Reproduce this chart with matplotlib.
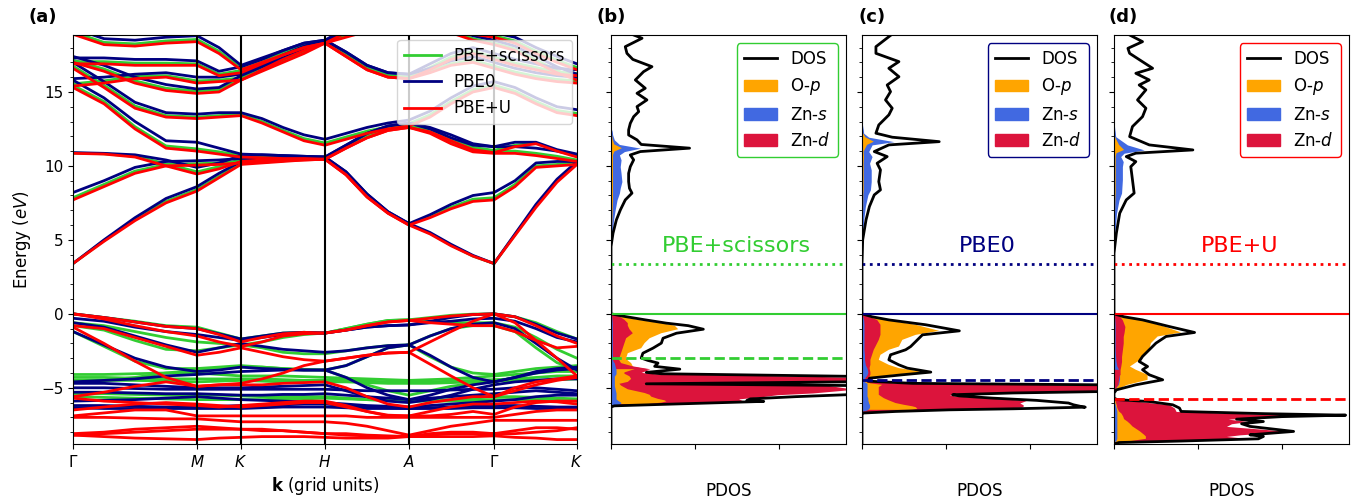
import numpy as np
import matplotlib
matplotlib.use('Agg')
import matplotlib.pyplot as plt
from matplotlib.lines import Line2D
from matplotlib.patches import Patch

# k-path samples (high symmetry points at index 0,4,6,10,14,18,22)
kpath = [0, .31, .62, .93, 1.24, 1.46, 1.68, 1.89, 2.10, 2.31, 2.52, 2.73, 2.94, 3.15,
         3.36, 3.57, 3.78, 4.00, 4.21, 4.42, 4.63, 4.84, 5.04]
kticks = [0, 1.24, 1.68, 2.52, 3.36, 4.21, 5.04]
klabels = [r'$\mathit{\Gamma}$', '$M$', '$K$', '$H$', '$A$', r'$\mathit{\Gamma}$', '$K$']

bands_pbeu = [
    [3.4, 4.9, 6.3, 7.5, 8.3, 9.2, 10.1, 10.2, 10.3, 10.4, 10.45, 9.4, 7.9, 6.8, 6.0, 5.4, 4.6, 3.9, 3.4, 5.3, 7.2, 8.9, 10.1],
    [7.7, 8.6, 9.5, 10.0, 10.05, 10.1, 10.2, 10.25, 10.35, 10.4, 10.45, 9.4, 7.9, 6.8, 6.0, 6.5, 7.1, 7.6, 7.7, 8.6, 9.9, 10.0, 10.1],
    [10.85, 10.8, 10.6, 10.0, 9.45, 9.8, 10.3, 10.4, 10.4, 10.45, 10.45, 11.2, 11.9, 12.4, 12.6, 12.2, 11.5, 10.95, 10.85, 10.85, 10.7, 10.5, 10.3],
    [15.3, 14.2, 12.5, 11.2, 11.0, 10.8, 10.6, 10.55, 10.5, 10.5, 10.45, 11.2, 11.9, 12.4, 12.6, 12.3, 11.7, 11.1, 10.9, 11.3, 11.5, 11.0, 10.6],
    [16.6, 15.3, 13.9, 13.3, 13.2, 13.3, 13.4, 12.9, 12.3, 11.7, 11.4, 11.8, 12.2, 12.5, 12.7, 13.3, 14.2, 15.0, 15.3, 14.9, 14.2, 13.6, 13.4],
    [15.4, 15.6, 15.9, 16.0, 15.6, 15.7, 15.8, 16.5, 17.2, 17.8, 18.3, 17.4, 16.5, 16.0, 15.9, 16.3, 16.8, 17.0, 16.6, 16.2, 15.9, 15.7, 15.6],
    [16.9, 16.9, 16.8, 16.8, 16.8, 16.1, 16.3, 16.9, 17.5, 18.0, 18.3, 17.4, 16.5, 16.0, 15.9, 16.5, 17.2, 17.6, 17.2, 16.8, 16.5, 16.2, 16.1],
    [18.9, 18.2, 18.1, 18.3, 18.4, 17.6, 16.5, 17.0, 17.5, 18.0, 18.3, 18.7, 19.1, 19.3, 19.4, 19.3, 19.1, 18.9, 18.7, 18.3, 17.6, 17.0, 16.5],
    [17.0, 16.4, 15.6, 15.1, 14.9, 15.0, 15.8, 16.4, 17.0, 17.6, 18.3, 19.0, 19.5, 19.8, 20.0, 19.6, 19.0, 18.5, 18.2, 17.8, 17.0, 16.3, 15.8],
    [0.0, -0.25, -0.55, -0.85, -1.0, -1.4, -1.9, -1.6, -1.35, -1.25, -1.3, -1.1, -0.8, -0.55, -0.45, -0.3, -0.15, -0.05, 0.0, -0.2, -0.8, -1.5, -2.0],
    [0.0, -0.35, -0.8, -1.2, -1.5, -1.9, -2.2, -1.9, -1.5, -1.35, -1.3, -1.1, -0.8, -0.55, -0.45, -0.6, -0.7, -0.8, -0.8, -1.2, -1.8, -2.3, -2.2],
    [-0.8, -1.0, -1.6, -2.2, -2.8, -2.6, -2.3, -2.6, -2.9, -3.1, -3.2, -3.0, -2.8, -2.65, -2.6, -1.9, -1.2, -0.5, 0.0, -0.6, -1.8, -3.0, -4.2],
    [-0.9, -2.0, -3.2, -4.3, -4.9, -4.8, -4.7, -4.4, -4.0, -3.5, -3.2, -3.0, -2.8, -2.65, -2.6, -3.4, -4.2, -5.0, -5.6, -5.2, -4.8, -4.5, -4.3],
    [-5.6, -5.3, -4.9, -4.6, -4.9, -4.8, -4.8, -4.8, -4.7, -4.65, -4.6, -5.0, -5.6, -6.1, -6.3, -6.0, -5.8, -5.6, -5.6, -5.0, -4.6, -4.4, -4.2],
    [-5.7, -5.9, -6.0, -6.1, -6.2, -6.3, -6.2, -6.1, -6.0, -5.9, -5.9, -6.2, -6.6, -6.9, -6.9, -6.9, -6.8, -6.6, -6.8, -6.3, -6.0, -5.9, -5.9],
    [-6.5, -6.3, -6.1, -6.0, -6.1, -6.2, -6.3, -6.2, -6.1, -6.0, -6.0, -6.3, -6.6, -6.85, -6.9, -6.6, -6.3, -6.1, -6.1, -6.0, -5.9, -5.95, -6.1],
    [-6.9, -6.7, -6.5, -6.5, -6.9, -6.9, -6.9, -6.9, -6.9, -6.9, -6.9, -6.9, -7.0, -7.0, -7.0, -7.0, -7.0, -7.0, -7.0, -6.8, -6.6, -6.5, -6.5],
    [-7.0, -7.0, -7.05, -7.1, -7.1, -7.2, -7.3, -7.3, -7.3, -7.3, -7.3, -7.4, -7.6, -7.9, -8.2, -7.9, -7.6, -7.4, -7.2, -7.2, -7.2, -7.2, -7.2],
    [-8.1, -8.0, -7.8, -7.7, -7.6, -7.7, -7.8, -7.9, -7.9, -8.0, -8.1, -8.2, -8.25, -8.3, -8.3, -8.2, -8.1, -8.1, -8.1, -7.9, -7.7, -7.7, -7.8],
    [-8.2, -8.3, -8.4, -8.45, -8.5, -8.4, -8.35, -8.3, -8.3, -8.3, -8.35, -8.4, -8.4, -8.4, -8.3, -8.3, -8.3, -8.3, -8.25, -8.35, -8.4, -8.5, -8.5],
    [-8.2, -8.1, -8.0, -7.9, -7.8, -7.8, -7.8, -7.8, -7.9, -8.0, -8.1, -8.1, -8.2, -8.25, -8.3, -8.1, -8.0, -8.0, -8.1, -8.1, -8.0, -7.9, -7.7],
]

bands_pbe0 = [
    [3.4, 5.0, 6.5, 7.8, 8.6, 9.5, 10.3, 10.35, 10.45, 10.55, 10.6, 9.6, 8.1, 6.9, 6.1, 5.5, 4.7, 3.95, 3.4, 5.4, 7.4, 9.1, 10.3],
    [8.2, 9.0, 9.9, 10.3, 10.35, 10.4, 10.5, 10.5, 10.55, 10.6, 10.6, 9.6, 8.1, 6.9, 6.1, 6.7, 7.4, 8.0, 8.2, 9.0, 10.2, 10.3, 10.3],
    [10.9, 10.85, 10.75, 10.4, 9.9, 10.2, 10.7, 10.75, 10.7, 10.65, 10.6, 11.4, 12.2, 12.7, 12.9, 12.5, 11.9, 11.4, 11.3, 11.3, 11.2, 11.0, 10.7],
    [15.8, 14.6, 13.0, 11.7, 11.6, 11.2, 10.8, 10.75, 10.7, 10.65, 10.6, 11.4, 12.2, 12.7, 12.9, 12.6, 12.1, 11.5, 11.3, 11.6, 11.6, 11.1, 10.8],
    [17.0, 15.7, 14.3, 13.6, 13.5, 13.6, 13.6, 13.2, 12.6, 12.1, 11.8, 12.2, 12.6, 12.9, 13.1, 13.7, 14.6, 15.4, 15.7, 15.3, 14.6, 14.0, 13.8],
    [15.9, 16.0, 16.2, 16.3, 16.0, 16.0, 16.2, 16.8, 17.5, 18.1, 18.5, 17.7, 16.8, 16.3, 16.2, 16.6, 17.1, 17.4, 17.0, 16.6, 16.3, 16.1, 16.0],
    [17.3, 17.3, 17.2, 17.2, 17.1, 16.4, 16.7, 17.2, 17.8, 18.3, 18.5, 17.7, 16.8, 16.3, 16.2, 16.9, 17.6, 18.0, 17.6, 17.2, 16.9, 16.6, 16.5],
    [19.3, 18.6, 18.5, 18.7, 18.8, 18.0, 16.8, 17.3, 17.8, 18.3, 18.5, 19.0, 19.4, 19.6, 19.7, 19.6, 19.4, 19.2, 19.0, 18.7, 18.0, 17.4, 16.9],
    [17.4, 16.8, 16.0, 15.5, 15.2, 15.3, 16.1, 16.7, 17.3, 17.9, 18.5, 19.3, 19.8, 20.1, 20.3, 19.9, 19.3, 18.8, 18.5, 18.1, 17.4, 16.7, 16.2],
    [0.0, -0.25, -0.55, -0.85, -1.0, -1.35, -1.7, -1.5, -1.3, -1.25, -1.3, -1.1, -0.9, -0.8, -0.75, -0.5, -0.25, -0.05, 0.0, -0.2, -0.7, -1.3, -1.7],
    [-0.3, -0.5, -0.9, -1.2, -1.4, -1.6, -1.8, -1.6, -1.4, -1.3, -1.3, -1.1, -0.9, -0.8, -0.75, -0.6, -0.5, -0.35, -0.3, -0.5, -1.0, -1.6, -1.9],
    [-0.6, -0.9, -1.5, -2.1, -2.6, -2.3, -2.0, -2.2, -2.4, -2.5, -2.6, -2.5, -2.3, -2.15, -2.1, -1.5, -1.0, -0.7, -0.6, -1.0, -2.0, -3.0, -3.8],
    [-1.2, -2.1, -3.0, -3.6, -3.9, -3.8, -3.6, -3.7, -3.75, -3.8, -3.8, -3.5, -2.9, -2.3, -2.1, -2.8, -3.6, -4.3, -4.6, -4.3, -3.9, -3.7, -3.6],
    [-4.6, -4.5, -4.4, -4.2, -4.1, -4.0, -3.9, -3.85, -3.8, -3.8, -3.8, -4.3, -5.0, -5.5, -5.8, -5.5, -5.1, -4.8, -4.6, -4.3, -4.0, -3.8, -3.7],
    [-4.7, -4.7, -4.8, -4.9, -5.0, -5.0, -5.0, -4.95, -4.9, -4.85, -4.8, -5.2, -5.6, -5.9, -6.0, -5.8, -5.5, -5.1, -4.8, -4.6, -4.5, -4.4, -4.4],
    [-5.0, -5.0, -5.05, -5.1, -5.1, -5.1, -5.1, -5.1, -5.1, -5.1, -5.1, -5.15, -5.2, -5.2, -5.2, -5.2, -5.15, -5.1, -5.1, -5.0, -5.0, -5.1, -5.2],
    [-5.3, -5.3, -5.35, -5.4, -5.4, -5.45, -5.5, -5.5, -5.45, -5.45, -5.4, -5.5, -5.6, -5.7, -5.8, -5.7, -5.6, -5.5, -5.4, -5.3, -5.2, -5.3, -5.4],
    [-5.9, -5.85, -5.8, -5.7, -5.6, -5.7, -5.8, -5.85, -5.9, -5.95, -6.0, -6.1, -6.2, -6.25, -6.3, -6.2, -6.1, -6.0, -5.9, -5.8, -5.6, -5.5, -5.5],
    [-6.2, -6.2, -6.25, -6.3, -6.3, -6.25, -6.2, -6.2, -6.15, -6.1, -6.1, -6.2, -6.3, -6.35, -6.4, -6.35, -6.3, -6.25, -6.2, -6.2, -6.25, -6.3, -6.3],
    [-6.35, -6.4, -6.4, -6.4, -6.4, -6.4, -6.4, -6.35, -6.3, -6.3, -6.3, -6.35, -6.4, -6.4, -6.4, -6.4, -6.4, -6.35, -6.35, -6.35, -6.4, -6.4, -6.4],
]

bands_sci = [
    [3.4, 4.95, 6.4, 7.6, 8.4, 9.3, 10.2, 10.25, 10.35, 10.45, 10.5, 9.45, 7.95, 6.85, 6.05, 5.45, 4.65, 3.9, 3.4, 5.35, 7.3, 9.0, 10.2],
    [7.85, 8.75, 9.65, 10.1, 10.15, 10.2, 10.3, 10.3, 10.4, 10.45, 10.5, 9.45, 7.95, 6.85, 6.05, 6.6, 7.2, 7.75, 7.85, 8.75, 10.0, 10.1, 10.2],
    [10.87, 10.82, 10.65, 10.15, 9.6, 9.95, 10.45, 10.5, 10.5, 10.5, 10.5, 11.3, 12.0, 12.5, 12.7, 12.3, 11.6, 11.1, 11.0, 11.0, 10.85, 10.65, 10.4],
    [15.45, 14.35, 12.65, 11.35, 11.15, 10.95, 10.7, 10.65, 10.6, 10.55, 10.5, 11.3, 12.0, 12.5, 12.7, 12.4, 11.85, 11.25, 11.05, 11.4, 11.55, 11.05, 10.7],
    [16.75, 15.45, 14.05, 13.4, 13.3, 13.4, 13.5, 13.0, 12.4, 11.85, 11.55, 11.95, 12.35, 12.65, 12.85, 13.45, 14.35, 15.15, 15.45, 15.05, 14.35, 13.75, 13.55],
    [15.55, 15.75, 16.05, 16.1, 15.75, 15.8, 15.95, 16.6, 17.3, 17.9, 18.4, 17.5, 16.6, 16.1, 16.0, 16.4, 16.9, 17.15, 16.75, 16.35, 16.05, 15.85, 15.75],
    [17.05, 17.05, 16.95, 16.95, 16.9, 16.2, 16.45, 17.0, 17.6, 18.1, 18.4, 17.5, 16.6, 16.1, 16.0, 16.65, 17.35, 17.75, 17.35, 16.95, 16.65, 16.35, 16.25],
    [19.05, 18.35, 18.25, 18.45, 18.55, 17.75, 16.6, 17.1, 17.6, 18.1, 18.4, 18.8, 19.2, 19.4, 19.5, 19.4, 19.2, 19.0, 18.8, 18.45, 17.75, 17.15, 16.65],
    [17.15, 16.55, 15.75, 15.25, 15.05, 15.15, 15.9, 16.5, 17.1, 17.7, 18.4, 19.1, 19.6, 19.9, 20.1, 19.7, 19.1, 18.6, 18.3, 17.9, 17.15, 16.45, 15.95],
    [0.0, -0.25, -0.5, -0.8, -0.9, -1.3, -1.7, -1.5, -1.3, -1.25, -1.3, -1.0, -0.7, -0.45, -0.4, -0.25, -0.1, -0.02, 0.0, -0.2, -0.6, -1.2, -1.7],
    [-0.6, -0.8, -1.2, -1.6, -1.9, -2.0, -2.1, -1.9, -1.6, -1.4, -1.3, -1.0, -0.7, -0.45, -0.4, -0.5, -0.6, -0.6, -0.6, -0.9, -1.6, -2.4, -3.0],
    [-0.8, -1.1, -1.8, -2.4, -2.5, -2.3, -2.1, -2.3, -2.6, -2.7, -2.7, -2.5, -2.3, -2.15, -2.1, -1.5, -1.0, -0.8, -0.8, -1.2, -2.3, -3.3, -3.8],
    [-1.2, -2.2, -3.2, -3.7, -3.7, -3.6, -3.5, -3.6, -3.7, -3.75, -3.8, -3.5, -2.9, -2.3, -2.1, -2.9, -3.6, -4.0, -4.1, -3.9, -3.7, -3.6, -3.5],
    [-4.6, -4.5, -4.3, -4.0, -3.8, -3.7, -3.6, -3.6, -3.7, -3.8, -3.8, -4.3, -4.8, -5.2, -5.5, -5.2, -4.9, -4.7, -4.6, -4.3, -4.0, -3.8, -3.7],
    [-4.1, -4.1, -4.05, -4.0, -4.0, -4.1, -4.2, -4.2, -4.2, -4.25, -4.3, -4.35, -4.4, -4.45, -4.5, -4.45, -4.4, -4.3, -4.2, -4.1, -4.0, -3.9, -3.9],
    [-4.3, -4.3, -4.35, -4.4, -4.4, -4.4, -4.4, -4.4, -4.45, -4.5, -4.5, -4.5, -4.55, -4.6, -4.6, -4.6, -4.55, -4.5, -4.45, -4.4, -4.3, -4.2, -4.2],
    [-4.5, -4.5, -4.5, -4.55, -4.6, -4.55, -4.5, -4.55, -4.6, -4.6, -4.6, -4.6, -4.65, -4.7, -4.7, -4.7, -4.65, -4.6, -4.55, -4.5, -4.5, -4.45, -4.4],
    [-5.4, -5.4, -5.45, -5.5, -5.5, -5.5, -5.55, -5.6, -5.6, -5.6, -5.6, -5.7, -5.8, -5.85, -5.9, -5.85, -5.8, -5.7, -5.6, -5.6, -5.65, -5.7, -5.75],
    [-5.6, -5.65, -5.7, -5.75, -5.8, -5.8, -5.8, -5.8, -5.75, -5.75, -5.7, -5.75, -5.8, -5.85, -5.9, -5.9, -5.9, -5.85, -5.8, -5.8, -5.8, -5.85, -5.9],
]

# PDOS panels: energy grid, total DOS, O-p, Zn-s, Zn-d
E_b = [-8.8, -6.3, -6.22, -6.1, -6.0, -5.92, -5.85, -5.75, -5.6, -5.47, -5.35, -5.1, -4.85, -4.73, -4.6, -4.4, -4.22,
       -4.05, -3.96, -3.74, -3.55, -3.33, -3.15, -2.99, -2.66, -2.32, -1.98, -1.65, -1.31, -1.04, -0.8, -0.63, -0.4, -0.18, 0.0,
       3.4, 4.55, 5.45, 6.35, 7.03, 7.7, 8.16, 8.49, 8.94, 9.5, 9.95, 10.41, 10.74, 10.97, 11.2, 11.45, 11.76, 12.09, 12.43,
       12.88, 13.33, 13.67, 14.01, 14.46, 14.91, 15.25, 15.81, 16.37, 16.71, 17.2, 17.61, 18.06, 18.63, 18.85]
tot_b = [0, 0, 0.2, 3.7, 6.7, 9.1, 8.1, 8.3, 11.0, 14.0, 16.0, 17.0, 14.5, 2.1, 14.0, 20.0, 14.0,
         3.0, 2.1, 4.1, 2.6, 2.8, 2.2, 1.8, 1.9, 2.5, 3.0, 3.1, 3.9, 5.5, 4.6, 3.3, 2.0, 0.83, 0,
         0, 0.0, 0.12, 0.32, 0.56, 0.85, 1.25, 1.1, 1.05, 1.05, 1.15, 1.35, 1.15, 1.75, 4.68, 1.8, 1.55, 1.05, 1.05,
         1.15, 1.35, 1.65, 1.55, 2.14, 1.55, 2.04, 1.45, 1.94, 2.44, 1.3, 0.95, 0.85, 1.85, 1.35]
op_b = [0, 0, 0.1, 2.2, 3.0, 3.3, 3.2, 2.8, 2.4, 2.3, 2.0, 1.0, 0.6, 0.5, 1.0, 1.2, 1.1,
        0.8, 0.8, 1.4, 1.3, 1.2, 1.0, 0.9, 1.0, 1.8, 2.0, 2.3, 3.0, 4.0, 3.8, 3.0, 1.6, 0.6, 0,
        0, 0.02, 0.05, 0.08, 0.1, 0.12, 0.12, 0.12, 0.12, 0.12, 0.12, 0.12, 0.12, 0.2, 0.65, 0.2, 0.1, 0.06, 0.05,
        0.05, 0.05, 0.05, 0.05, 0.05, 0.05, 0.05, 0.05, 0.05, 0.05, 0.05, 0.05, 0.05, 0.05, 0.05]
zns_b = [0, 0, 0.05, 0.5, 0.6, 0.5, 0.4, 0.3, 0.3, 0.3, 0.3, 0.25, 0.2, 0.2, 0.2, 0.2, 0.2,
         0.3, 0.3, 0.3, 0.25, 0.2, 0.1, 0.1, 0.08, 0.08, 0.08, 0.08, 0.08, 0.08, 0.08, 0.08, 0.06, 0.04, 0,
         0, 0.02, 0.08, 0.15, 0.25, 0.36, 0.5, 0.55, 0.65, 0.6, 0.55, 0.6, 0.5, 0.8, 1.75, 0.5, 0.2, 0.1, 0.05,
         0.03, 0.02, 0.02, 0.02, 0.02, 0.02, 0.02, 0.02, 0.02, 0.02, 0.02, 0.02, 0.02, 0.02, 0.02]
znd_b = [0, 0, 0.1, 2.4, 6.0, 8.3, 7.8, 7.6, 9.0, 9.9, 12.0, 14.5, 13.0, 1.8, 13.0, 18.0, 12.0,
         2.6, 1.8, 2.3, 1.3, 0.6, 0.5, 0.5, 0.6, 0.7, 0.8, 0.9, 1.3, 1.1, 1.0, 1.0, 0.8, 0.5, 0,
         0, 0, 0, 0, 0, 0, 0, 0, 0, 0, 0, 0, 0, 0, 0.02, 0, 0, 0, 0,
         0, 0, 0, 0, 0, 0, 0, 0, 0, 0, 0, 0, 0, 0, 0]

E_c = [-8.8, -6.75, -6.71, -6.6, -6.49, -6.42, -6.31, -6.25, -6.15, -6.03, -5.85, -5.7, -5.55, -5.47, -5.35, -5.25, -4.95,
       -4.8, -4.7, -4.55, -4.35, -4.12, -3.94, -3.67, -3.45, -3.11, -2.77, -2.43, -2.21, -1.76, -1.42, -1.15, -0.74, -0.41, -0.2, 0.0,
       3.4, 5.0, 6.35, 7.25, 8.04, 8.38, 8.94, 9.73, 10.18, 10.63, 10.97, 11.42, 11.64, 11.94, 12.21, 12.77, 13.45, 13.9,
       14.46, 15.02, 15.47, 16.03, 16.6, 17.05, 17.61, 18.06, 18.85]
tot_c = [0, 0, 0, 2.0, 5.2, 9.0, 13.3, 13.0, 12.6, 12.3, 10.4, 7.8, 5.8, 5.4, 9.0, 14.5, 18.0,
         14.5, 3.0, 0.35, 0.45, 2.4, 4.1, 2.7, 2.2, 1.6, 1.7, 2.6, 2.9, 3.3, 3.6, 5.8, 3.8, 1.6, 0.6, 0,
         0, 0.04, 0.24, 0.44, 0.73, 1.1, 1.0, 1.1, 0.9, 1.5, 0.73, 1.6, 4.6, 1.8, 0.83, 1.0, 1.6, 1.8,
         1.4, 1.7, 1.5, 2.2, 1.6, 2.2, 0.83, 0.83, 1.73]
op_c = [0, 0, 0, 1.0, 3.0, 3.3, 3.2, 3.0, 2.5, 2.0, 1.6, 1.3, 1.1, 1.0, 1.0, 1.0, 1.0,
        1.2, 0.5, 0.1, 0.2, 1.8, 3.7, 2.2, 1.6, 1.0, 1.1, 1.6, 2.2, 2.4, 3.2, 4.6, 3.2, 1.4, 0.4, 0,
        0, 0.02, 0.05, 0.07, 0.08, 0.1, 0.1, 0.1, 0.1, 0.12, 0.1, 0.3, 0.7, 0.2, 0.06, 0.05, 0.05, 0.05,
        0.05, 0.05, 0.05, 0.05, 0.05, 0.05, 0.05, 0.05, 0.05]
zns_c = [0, 0, 0, 0.1, 0.3, 0.4, 0.45, 0.45, 0.45, 0.4, 0.35, 0.35, 0.3, 0.3, 0.3, 0.3, 0.3,
         0.3, 0.3, 0.1, 0.15, 0.3, 0.35, 0.3, 0.2, 0.15, 0.15, 0.12, 0.12, 0.12, 0.12, 0.12, 0.12, 0.1, 0.05, 0,
         0, 0.02, 0.1, 0.2, 0.35, 0.5, 0.55, 0.55, 0.45, 0.6, 0.4, 0.6, 1.9, 0.4, 0.1, 0.03, 0.02, 0.02,
         0.02, 0.02, 0.02, 0.02, 0.02, 0.02, 0.02, 0.02, 0.02]
znd_c = [0, 0, 0, 1.0, 3.5, 7.0, 9.5, 9.6, 9.6, 9.4, 9.8, 7.6, 5.5, 5.2, 8.0, 13.0, 16.0,
         13.0, 2.5, 0.2, 0.4, 0.5, 0.5, 0.45, 0.5, 0.5, 0.6, 0.7, 0.8, 1.0, 1.1, 1.1, 1.1, 0.9, 0.4, 0,
         0, 0, 0, 0, 0, 0, 0, 0, 0, 0, 0, 0, 0.02, 0, 0, 0, 0, 0,
         0, 0, 0, 0, 0, 0, 0, 0, 0]

E_d = [-8.8, -8.7, -8.6, -8.45, -8.29, -8.18, -7.95, -7.61, -7.43, -7.28, -7.12, -6.95, -6.85, -6.75, -6.6, -6.37, -6.15,
       -5.93, -5.8, -5.7, -5.36, -5.14, -4.8, -4.46, -4.12, -3.78, -3.56, -3.22, -2.88, -2.43, -1.98, -1.53, -1.26, -0.86,
       -0.41, -0.2, 0.0,
       3.4, 4.1, 5.45, 6.8, 7.7, 8.16, 9.06, 9.95, 10.29, 10.63, 10.86, 11.08, 11.42, 11.98, 12.66, 13.33, 13.9, 14.46,
       15.14, 15.47, 15.81, 16.26, 16.6, 17.61, 17.95, 18.4, 18.85]
tot_d = [0, 0.3, 4.0, 8.6, 8.9, 8.1, 10.7, 8.1, 7.6, 8.9, 7.3, 10.0, 13.8, 9.0, 4.0, 3.9, 3.5,
         2.1, 0.2, 0, 0, 0.14, 1.3, 2.9, 2.1, 1.7, 2.0, 1.5, 1.7, 2.1, 2.5, 3.1, 4.8, 3.3,
         1.7, 0.6, 0,
         0, 0, 0.14, 0.34, 0.73, 1.2, 1.1, 1.0, 1.3, 0.73, 1.3, 4.7, 2.1, 0.93, 1.1, 1.7, 1.9, 1.4,
         1.9, 1.5, 2.1, 1.3, 2.3, 0.93, 0.83, 1.7, 0.93]
op_d = [0, 0.1, 1.0, 1.9, 1.9, 1.8, 1.55, 1.1, 0.95, 0.8, 0.6, 0.55, 0.5, 0.45, 0.3, 0.2, 0.16,
        0.1, 0.05, 0, 0, 0.1, 0.8, 2.0, 2.0, 1.3, 0.95, 1.4, 1.75, 2.1, 2.2, 2.6, 4.0, 3.0,
        1.6, 0.5, 0,
        0, 0, 0.03, 0.06, 0.08, 0.1, 0.1, 0.1, 0.1, 0.1, 0.15, 0.6, 0.3, 0.05, 0.05, 0.05, 0.05, 0.05,
        0.05, 0.05, 0.05, 0.05, 0.05, 0.05, 0.05, 0.05, 0.05]
zns_d = [0, 0.05, 0.15, 0.2, 0.2, 0.2, 0.2, 0.2, 0.2, 0.2, 0.2, 0.2, 0.2, 0.2, 0.2, 0.15, 0.1,
         0.05, 0.02, 0, 0, 0.05, 0.3, 0.36, 0.36, 0.3, 0.2, 0.15, 0.12, 0.1, 0.1, 0.1, 0.1, 0.1,
         0.08, 0.05, 0,
         0, 0, 0.05, 0.15, 0.3, 0.45, 0.5, 0.5, 0.55, 0.4, 0.6, 1.8, 0.8, 0.1, 0.03, 0.02, 0.02, 0.02,
         0.02, 0.02, 0.02, 0.02, 0.02, 0.02, 0.02, 0.02, 0.02]
znd_d = [0, 0.2, 3.0, 8.2, 6.7, 7.5, 10.5, 6.7, 7.0, 8.0, 6.8, 9.5, 13.5, 8.0, 3.7, 3.6, 3.3,
         1.5, 0.1, 0, 0, 0.05, 0.26, 0.3, 0.36, 0.36, 0.4, 0.45, 0.45, 0.5, 0.55, 0.55, 0.6, 0.65,
         0.5, 0.36, 0,
         0, 0, 0, 0, 0, 0, 0, 0, 0, 0, 0, 0.02, 0, 0, 0, 0, 0, 0,
         0, 0, 0, 0, 0, 0, 0, 0, 0]

methods = ['PBE+scissors', 'PBE0', 'PBE+U']
mcolors = ['#32cd32', '#000080', '#ff0000']
cbm = 3.38
dband = [-3.0, -4.5, -5.74]
pcolors = ['#ffa500', '#4169e1', '#dc143c']

ylim = (-8.8, 18.85)

fig = plt.figure(figsize=(13.65, 5.0), dpi=100)

# (a) band structure
axa = fig.add_axes([73/1365, 56/500, 504/1365, 409/500])
for bands, col in zip([bands_sci, bands_pbe0, bands_pbeu], mcolors):
    for b in bands:
        axa.plot(kpath, b, color=col, lw=2)
for kt in kticks[1:-1]:
    axa.axvline(kt, color='k', lw=1.5)
axa.set_xlim(kticks[0], kticks[-1])
axa.set_ylim(*ylim)
axa.set_xticks(kticks)
axa.set_xticklabels(klabels, fontsize=11)
axa.set_yticks([-5, 0, 5, 10, 15])
axa.set_yticks(np.arange(-8, 19, 1), minor=True)
axa.tick_params(labelsize=11)
axa.set_ylabel('Energy ($eV$)', fontsize=12, labelpad=6)
axa.set_xlabel(r'$\mathbf{k}$ (grid units)', fontsize=12)
handles = [Line2D([], [], color=c, lw=2) for c in mcolors]
axa.legend(handles, methods, loc='upper right', fontsize=12, framealpha=0.8,
           borderaxespad=0.3, handlelength=2.2)


def layered_fill(ax, E, parts):
    # each projection filled from zero, the smaller one drawn on top
    vals = np.array(parts, dtype=float)
    rank = np.argsort(np.argsort(-vals, axis=0), axis=0)
    for r in range(3):
        for i in range(3):
            m = rank[i] == r
            mm = m.copy()
            mm[1:] |= m[:-1]
            mm[:-1] |= m[1:]
            ax.fill_betweenx(E, 0, vals[i], where=mm, color=pcolors[i], lw=0)


pdos = [(E_b, tot_b, op_b, zns_b, znd_b), (E_c, tot_c, op_c, zns_c, znd_c), (E_d, tot_d, op_d, zns_d, znd_d)]
lefts = [611, 862, 1114]
for j in range(3):
    ax = fig.add_axes([lefts[j]/1365, 56/500, 235/1365, 409/500])
    E, tot, op, zns, znd = pdos[j]
    E = np.array(E)
    layered_fill(ax, E, [op, zns, znd])
    ax.plot(tot, E, color='k', lw=2)
    c = mcolors[j]
    ax.axhline(0, color=c, lw=1.5)
    ax.axhline(cbm, color=c, lw=2, ls=':')
    ax.axhline(dband[j], color=c, lw=2, ls='--')
    ax.text(0.535, 4.6, methods[j], color=c, fontsize=16, ha='center', va='center',
            transform=ax.get_yaxis_transform())
    ax.set_xlim(0, 14)
    ax.set_ylim(*ylim)
    ax.set_xticks([0, 5, 10])
    ax.set_xticklabels([])
    ax.set_yticks([-5, 0, 5, 10, 15])
    ax.set_yticks(np.arange(-8, 19, 1), minor=True)
    ax.set_yticklabels([])
    ax.set_xlabel('PDOS', fontsize=12, labelpad=20)
    h = [Line2D([], [], color='k', lw=2)] + [Patch(color=pc) for pc in pcolors]
    leg = ax.legend(h, ['DOS', 'O-$p$', 'Zn-$s$', 'Zn-$d$'], loc='upper right', fontsize=12,
                    framealpha=1, borderaxespad=0.5)
    leg.get_frame().set_edgecolor(c)

for lab, x in zip(['(a)', '(b)', '(c)', '(d)'], [28, 597, 858, 1109]):
    fig.text(x/1365, 1 - 8/500, lab, fontsize=13, fontweight='bold', va='top', ha='left')

fig.savefig('out.png', dpi=100)
